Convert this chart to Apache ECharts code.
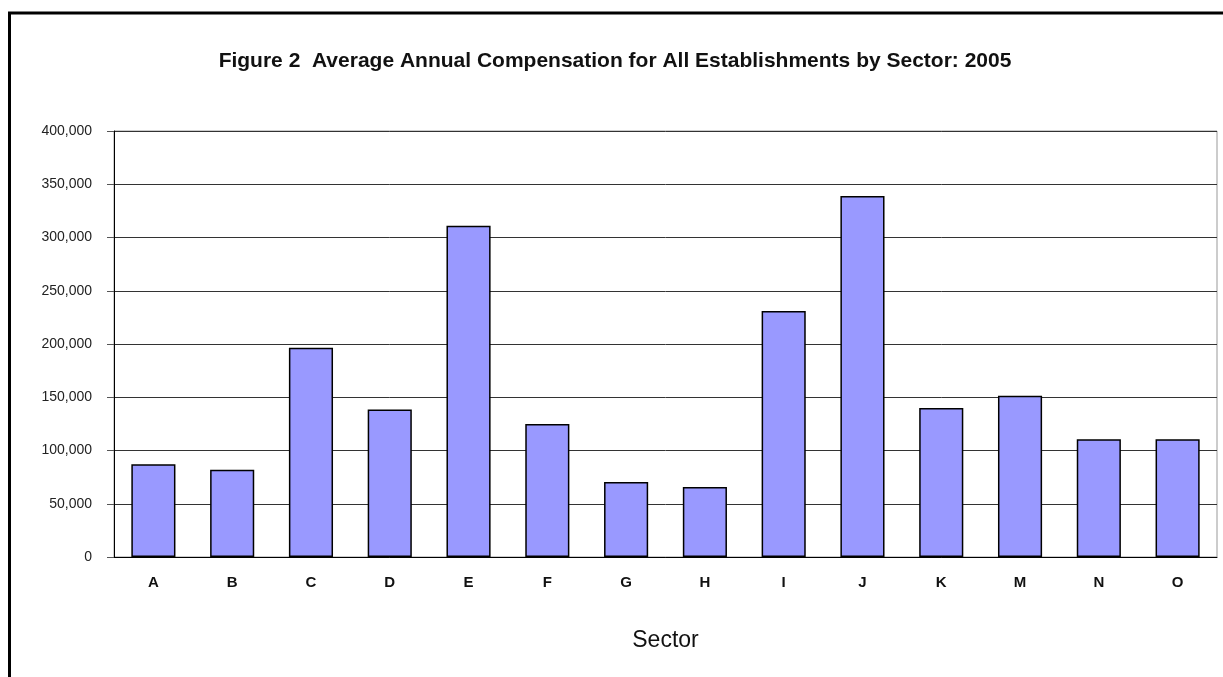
<!DOCTYPE html>
<html>
<head>
<meta charset="utf-8">
<script src="https://cdn.jsdelivr.net/npm/echarts@6/dist/echarts.min.js"></script>
<style>
    html, body { margin: 0; padding: 0; background: #fff; }
    #chart { width: 1223px; height: 677px; }
</style>
</head>
<body>
<div id="chart"></div>
<script>
    var sectors = ['A', 'B', 'C', 'D', 'E', 'F', 'G', 'H', 'I', 'J', 'K', 'M', 'N', 'O'];
    var compensation = [87000, 82000, 196500, 138500, 311000, 125000, 70500, 65700, 231000, 339000, 140000, 151500, 110500, 110500];

    var myChart = echarts.init(document.getElementById('chart'));

    var option = {
        animation: false,
        title: {
            text: 'Figure 2  Average Annual Compensation for All Establishments by Sector: 2005',
            left: 610,
            textAlign: 'center',
            top: 46,
            textStyle: {
                fontFamily: '"Liberation Sans", Arial, sans-serif',
                fontSize: 21,
                fontWeight: 'bold',
                color: '#111'
            }
        },
        graphic: [
            {
                type: 'rect',
                shape: { x: 9.5, y: 13, width: 1300, height: 800 },
                style: { fill: 'none', stroke: '#000', lineWidth: 3 }
            }
        ],
        grid: {
            left: 114,
            right: 6,
            top: 131,
            bottom: 120,
            show: true,
            borderColor: '#999',
            borderWidth: 1
        },
        xAxis: {
            type: 'category',
            data: sectors,
            name: 'Sector',
            nameLocation: 'middle',
            nameGap: 72,
            nameTextStyle: {
                fontFamily: '"Liberation Sans", Arial, sans-serif',
                fontSize: 23,
                color: '#111'
            },
            axisLine: { lineStyle: { color: '#000', width: 1 } },
            axisTick: { length: 7, lineStyle: { color: '#000' } },
            axisLabel: {
                margin: 18,
                fontFamily: '"Liberation Sans", Arial, sans-serif',
                fontSize: 15,
                fontWeight: 'bold',
                color: '#111'
            }
        },
        yAxis: {
            type: 'value',
            min: 0,
            max: 400000,
            interval: 50000,
            axisLine: { show: true, lineStyle: { color: '#000', width: 1 } },
            axisTick: { show: true, length: 7, lineStyle: { color: '#555' } },
            splitLine: { lineStyle: { color: '#333', width: 1 } },
            axisLabel: {
                margin: 22,
                fontFamily: '"Liberation Sans", Arial, sans-serif',
                fontSize: 14,
                color: '#222',
                formatter: function (v) {
                    return v.toString().replace(/\B(?=(\d{3})+(?!\d))/g, ',');
                }
            }
        },
        series: [
            {
                type: 'bar',
                data: compensation,
                barCategoryGap: '44%',
                itemStyle: {
                    color: '#9999ff',
                    borderColor: '#000',
                    borderWidth: 1.5
                }
            }
        ]
    };
    myChart.setOption(option);
</script>
</body>
</html>
